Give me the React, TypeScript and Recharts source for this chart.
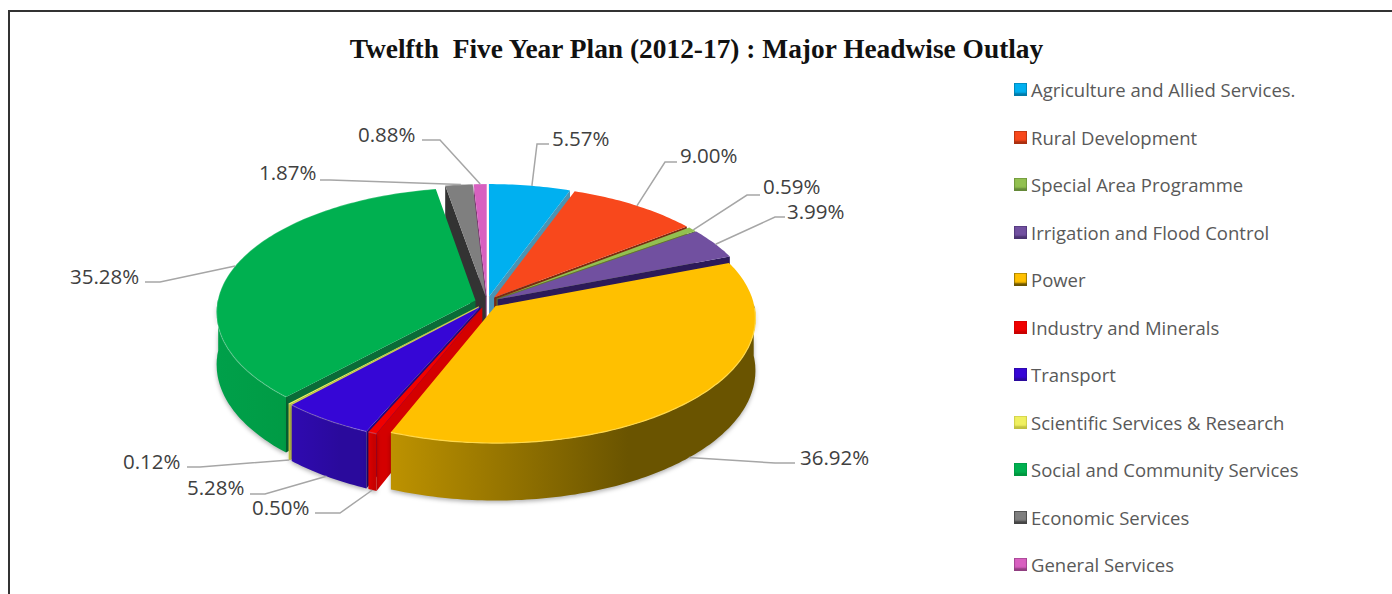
import { Legend, Pie, PieChart } from 'recharts'

const CATEGORIES = [
  'Agriculture and Allied Services.',
  'Rural Development',
  'Special Area Programme',
  'Irrigation and Flood Control',
  'Power',
  'Industry and Minerals',
  'Transport',
  'Scientific Services & Research',
  'Social and Community Services',
  'Economic Services',
  'General Services',
]
const SHARES = [5.57, 9.0, 0.59, 3.99, 36.92, 0.5, 5.28, 0.12, 35.28, 1.87, 0.88]

const TOP_COLORS = ['#00b0f0', '#f8481c', '#92c050', '#7150a0', '#ffc000', '#f00000', '#3606d6', '#f0f060', '#00b050', '#7f7f7f', '#d860c0']
const WALL_LIGHT = ['#0090c4', '#c83a14', '#78a040', '#5a3f86', '#bd9200', '#dc0000', '#2f0ab0', '#d8d850', '#00a04a', '#555555', '#b04c9c']
const WALL_DARK = ['#007aa8', '#a82f10', '#648838', '#4a3370', '#6a5400', '#c80000', '#2a0a9c', '#c0c040', '#00963f', '#444444', '#903e80']
const EDGE_COLORS = ['#4a94b4', '#7a2a10', '#5c7a34', '#2c1a58', '#8a6c00', '#d40000', '#20087c', '#d0d050', '#0a6c38', '#333333', '#7c3670']

// hand-placed data labels: text start and the leader elbow
const LABEL_X = [552, 680, 763, 787, 800, 252, 187, 123, 70, 259, 358]
const LABEL_Y = [138, 155, 186, 211, 457, 507, 487, 461, 276, 172, 134]
const ELBOW_X = [537, 665, 747, 775, 775, 340, 265, 200, 160, 330, 440]
const ELBOW_Y = [144, 162, 195, 217, 463, 513, 494, 467, 282, 180, 140]
const STUB_X = [549, 677, 760, 785, 795, 315, 250, 187, 145, 320, 422]

const WIDTH = 1392
const HEIGHT = 594
const CX = 487
const CY = 302
const RADIUS = 258
const SQUASH = 0.479
const PERSPECTIVE = 0.092
const EXPLODE = 12
const DEPTH = 52
const RAD = Math.PI / 180
const RIGHT_SIDE_COUNT = 4 // slices before Power, whose walls are painted first

const tableData = CATEGORIES.map((name, i) => ({ name, value: SHARES[i], fill: TOP_COLORS[i], slot: i }))
const reversedData = [...tableData].reverse()

type Pt = { x: number; y: number }

// ground plane to screen, with a little foreshortening towards the back
function project(cx: number, cy: number, px: number, py: number, drop = 0): Pt {
  const w = 1 - (PERSPECTIVE * py) / RADIUS
  return { x: cx + px / w, y: cy + (py * SQUASH + drop) / w }
}

function slicePoints(cx: number, cy: number, r: number, mid: number, start: number, end: number, drop = 0) {
  const ex = EXPLODE * Math.cos(mid * RAD)
  const ey = -EXPLODE * Math.sin(mid * RAD)
  const steps = Math.max(2, Math.ceil(Math.abs(end - start)))
  const arc: Pt[] = []
  for (let i = 0; i <= steps; i++) {
    const a = (start + ((end - start) * i) / steps) * RAD
    arc.push(project(cx, cy, ex + r * Math.cos(a), ey - r * Math.sin(a), drop))
  }
  return { apex: project(cx, cy, ex, ey, drop), arc }
}

const toPath = (pts: Pt[]) => pts.map((p, i) => `${i ? 'L' : 'M'}${p.x.toFixed(1)} ${p.y.toFixed(1)}`).join('') + 'Z'
const toLine = (pts: Pt[]) => pts.map((p) => `${p.x.toFixed(1)},${p.y.toFixed(1)}`).join(' ')

function SliceWalls(props: any) {
  const { cx, cy, outerRadius, startAngle, endAngle, midAngle, slot } = props
  // the reversed pie runs counter-clockwise, so sort the angles into clockwise order
  const from = Math.max(startAngle, endAngle)
  const to = Math.min(startAngle, endAngle)
  const top = slicePoints(cx, cy, outerRadius, midAngle, from, to)
  const low = slicePoints(cx, cy, outerRadius, midAngle, from, to, DEPTH)
  const n = top.arc.length - 1
  const radial = (k: number) => toPath([top.apex, top.arc[k], low.arc[k], low.apex])

  // only the part of the rim turned towards the viewer gets an outer wall
  const front: number[] = []
  top.arc.forEach((_, k) => {
    const a = (from + ((to - from) * k) / n) * RAD
    if (Math.sin(a) <= 0.02) front.push(k)
  })
  const gradId = `wall-${slot}`
  const xs = top.arc.map((p) => p.x)
  return (
    <g>
      {Math.cos(from * RAD) < 0 && <path d={radial(0)} fill={EDGE_COLORS[slot]} />}
      {Math.cos(to * RAD) > 0 && <path d={radial(n)} fill={EDGE_COLORS[slot]} />}
      {front.length > 1 && (
        <>
          <defs>
            <linearGradient id={gradId} gradientUnits="userSpaceOnUse" x1={Math.min(...xs)} x2={Math.max(...xs)} y1={0} y2={0}>
              <stop offset="0" stopColor={WALL_LIGHT[slot]} />
              <stop offset="0.65" stopColor={WALL_DARK[slot]} />
            </linearGradient>
          </defs>
          <path
            d={toPath([...front.map((k) => top.arc[k]), ...front.map((k) => low.arc[k]).reverse()])}
            fill={`url(#${gradId})`}
            style={{ filter: 'drop-shadow(0 2px 2px rgba(0,0,0,0.3))' }}
          />
        </>
      )}
    </g>
  )
}

const RightWalls = (props: any) => (props.slot < RIGHT_SIDE_COUNT ? <SliceWalls {...props} /> : <g />)
const LeftWalls = (props: any) => (props.slot >= RIGHT_SIDE_COUNT ? <SliceWalls {...props} /> : <g />)

function SliceTop(props: any) {
  const { cx, cy, outerRadius, startAngle, endAngle, midAngle, slot } = props
  const { apex, arc } = slicePoints(cx, cy, outerRadius, midAngle, startAngle, endAngle)
  // soft bevel on the rim, only where it faces the viewer or the left
  const bevel = arc.filter((_, k) => {
    const a = (startAngle + ((endAngle - startAngle) * k) / (arc.length - 1)) * RAD
    return Math.sin(a) < 0 || Math.cos(a) < 0
  })
  return (
    <g>
      <path d={toPath([apex, ...arc])} fill={TOP_COLORS[slot]} />
      {bevel.length > 1 && <polyline points={toLine(bevel)} fill="none" stroke={slot === 4 ? '#ffd84a' : 'rgba(255,255,255,0.22)'} strokeWidth={1.2} />}
    </g>
  )
}

function ValueLabel(props: any) {
  const { cx, cy, outerRadius, startAngle, endAngle, midAngle, index, value } = props
  // leaders of the front slices land on the wall's lower edge
  const drop = Math.sin(midAngle * RAD) < 0 ? DEPTH : 0
  const { arc } = slicePoints(cx, cy, outerRadius, midAngle, startAngle, endAngle, drop)
  const rim = arc[Math.floor(arc.length / 2)]
  const points: Pt[] = [rim, { x: ELBOW_X[index], y: ELBOW_Y[index] }, { x: STUB_X[index], y: ELBOW_Y[index] }]
  return (
    <g>
      <polyline points={toLine(points)} fill="none" stroke="#a6a6a6" strokeWidth={1.5} />
      <text x={LABEL_X[index]} y={LABEL_Y[index]} dominantBaseline="central" fontFamily="'Open Sans'" fontSize={20.5} fill="#404040">
        {`${Number(value).toFixed(2)}%`}
      </text>
    </g>
  )
}

function LegendList({ payload }: any) {
  // every pie reports its slices; one set is enough
  const rows = (payload ?? []).slice(0, CATEGORIES.length)
  return (
    <div>
      {rows.map((entry: any, i: number) => (
        <div key={entry.value} style={{ display: 'flex', alignItems: 'center', height: 47.5, fontFamily: "'Open Sans'", fontSize: 18.5, color: '#595959', whiteSpace: 'nowrap' }}>
          <span
            style={{
              width: 13,
              height: 13,
              flexShrink: 0,
              marginRight: 4,
              background: TOP_COLORS[i],
              boxShadow: `inset 0 -3px 2px ${WALL_DARK[i]}, inset 0 0 0 1px ${WALL_LIGHT[i]}`,
            }}
          />
          {entry.value}
        </div>
      ))}
    </div>
  )
}

export default function App() {
  return (
    <div style={{ position: 'absolute', left: 0, top: 0, width: WIDTH, height: HEIGHT, background: '#fff', overflow: 'hidden' }}>
      <div style={{ position: 'absolute', left: 8, top: 10, width: 1400, height: 620, border: '2px solid #333', boxSizing: 'border-box' }} />
      <div
        style={{
          position: 'absolute',
          left: 0,
          top: 34,
          width: 1393,
          textAlign: 'center',
          fontFamily: "'Liberation Serif'",
          fontWeight: 'bold',
          fontSize: 27.4,
          color: '#111',
          whiteSpace: 'pre',
        }}
      >
        {'Twelfth  Five Year Plan (2012-17) : Major Headwise Outlay'}
      </div>
      <PieChart width={WIDTH} height={HEIGHT} margin={{ top: 0, right: 0, bottom: 0, left: 0 }}>
        <Pie data={tableData} dataKey="value" nameKey="name" cx={CX} cy={CY} outerRadius={RADIUS} startAngle={90} endAngle={-270} shape={RightWalls} isAnimationActive={false} />
        {/* same slices walked the other way, so the left side paints from the back to the front */}
        <Pie data={reversedData} dataKey="value" nameKey="name" cx={CX} cy={CY} outerRadius={RADIUS} startAngle={90} endAngle={450} shape={LeftWalls} isAnimationActive={false} />
        <Pie data={tableData} dataKey="value" nameKey="name" cx={CX} cy={CY} outerRadius={RADIUS} startAngle={90} endAngle={-270} shape={SliceTop} label={ValueLabel} labelLine={false} isAnimationActive={false} />
        <Legend layout="vertical" align="right" verticalAlign="top" itemSorter={null} content={LegendList} wrapperStyle={{ left: 1014, top: 66, width: 340 }} />
      </PieChart>
    </div>
  )
}
